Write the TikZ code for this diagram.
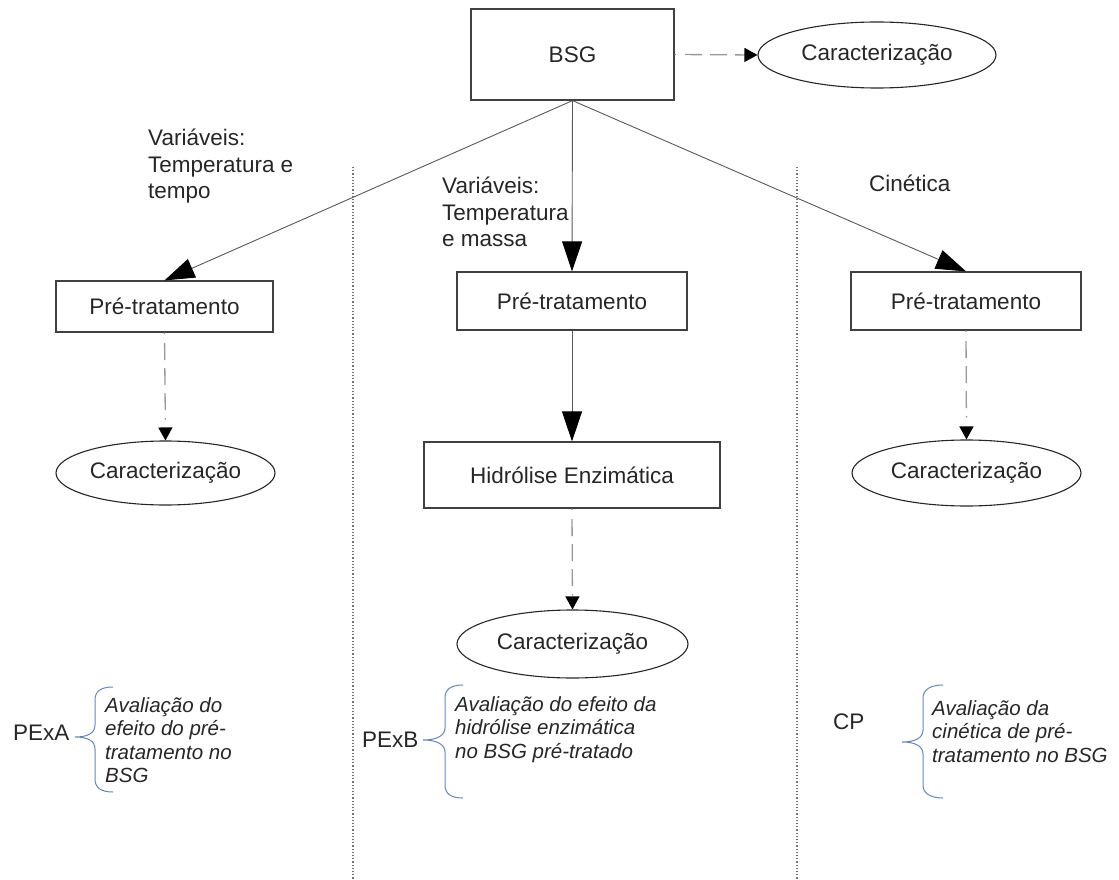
\documentclass[tikz,border=0pt]{standalone}
\usepackage{fontspec}
\setmainfont{Liberation Sans}
\usetikzlibrary{arrows.meta,shapes.geometric}
\definecolor{azulchave}{RGB}{96,135,195}

\tikzset{
  caixa/.style={draw=black!75,line width=1.2pt,rectangle,inner sep=0pt,
    text=black!85,font=\fontsize{22.5}{27}\selectfont},
  elipse/.style={draw=black!85,line width=1.1pt,ellipse,inner sep=0pt,
    text=black!85,font=\fontsize{22.5}{27}\selectfont},
  seta/.style={draw=black!65,line width=0.9pt,
    -{Triangle[length=30pt,width=20pt,color=black,fill=black]}},
  tracejada/.style={draw=black!40,line width=1.3pt,
    dash pattern=on 1.5pt off 9pt on 17pt off 8pt on 17pt off 8pt on 17pt off 8pt,
    -{Triangle[length=13pt,width=14pt,color=black,fill=black]}},
  rotulo/.style={inner sep=0pt,align=left,anchor=north west,text=black!85,
    font=\fontsize{22.5}{26.5}\selectfont},
  descricao/.style={inner sep=0pt,align=left,anchor=north west,text=black!85,
    font=\fontsize{20.5}{23.4}\selectfont\itshape},
  sigla/.style={inner sep=0pt,anchor=west,text=black!85,
    font=\fontsize{22.5}{27}\selectfont},
  chave/.style={draw=azulchave,line width=1pt},
  divisoria/.style={draw=black!55,line width=1.1pt,dash pattern=on 1.2pt off 2pt}
}

\begin{document}
\begin{tikzpicture}[x=1pt,y=-1pt]
  \useasboundingbox (0,0) rectangle (1119,880);

  % colunas
  \draw[divisoria] (353,167) -- (353,880);
  \draw[divisoria] (797,167) -- (797,880);

  % topo
  \node[caixa,minimum width=203pt,minimum height=91pt] (bsg) at (572.5,54.5) {BSG};
  \node[elipse,minimum width=238pt,minimum height=66pt] (carTop) at (877,55) {Caracterização};

  % pre-tratamentos
  \node[caixa,minimum width=217pt,minimum height=51pt] (preA) at (164.5,306.5) {Pré-tratamento};
  \node[caixa,minimum width=230pt,minimum height=58pt] (preB) at (572,301) {Pré-tratamento};
  \node[caixa,minimum width=230pt,minimum height=58pt] (preC) at (966,301) {Pré-tratamento};

  \node[elipse,minimum width=219pt,minimum height=64pt] (carA) at (165.5,473) {Caracterização};
  \node[caixa,minimum width=296pt,minimum height=66pt] (hidro) at (572,475) {Hidrólise Enzimática};
  \node[elipse,minimum width=229pt,minimum height=66pt] (carC) at (966.5,473) {Caracterização};
  \node[elipse,minimum width=231pt,minimum height=68pt] (carB) at (572.5,644) {Caracterização};

  % variaveis
  \node[rotulo] (varA) at (148,129) {Variáveis:\\Temperatura e\\tempo};
  \node[rotulo] (varB) at (442,177) {Variáveis:\\Temperatura\\e massa};
  \node[rotulo] (cin) at (869,175) {Cinética};

  % ligacoes
  \draw[tracejada] (bsg.east) -- (carTop.west);
  \draw[seta] (bsg.south) -- (preA.north);
  \draw[seta] (bsg.south) -- (preB.north);
  \draw[seta] (bsg.south) -- (preC.north);
  \draw[tracejada] (preA.south) -- (carA.north);
  \draw[seta] (preB.south) -- (hidro.north);
  \draw[tracejada] (hidro.south) -- (carB.north);
  \draw[tracejada] (preC.south) -- (carC.north);

  % legendas
  \node[sigla] (pexa) at (13,733) {PExA};
  \node[sigla] (pexb) at (362,740) {PExB};
  \node[sigla] (cp) at (833,722) {CP};

  \draw[chave] (113,687) .. controls (100,687) and (95,692) .. (95,700) -- (95,725)
    .. controls (95,733) and (88,737) .. (75,737) .. controls (88,737) and (95,741) .. (95,749)
    -- (95,779) .. controls (95,787) and (100,792) .. (113,792);
  \draw[chave] (463,685) .. controls (450,685) and (445,690) .. (445,698) -- (445,728)
    .. controls (445,736) and (436,740) .. (423,740) .. controls (436,740) and (445,744) .. (445,752)
    -- (445,785) .. controls (445,793) and (450,798) .. (463,798);
  \draw[chave] (943,685) .. controls (930,685) and (923,690) .. (923,698) -- (923,730)
    .. controls (923,738) and (915,742) .. (902,742) .. controls (915,742) and (923,746) .. (923,754)
    -- (923,785) .. controls (923,793) and (930,798) .. (943,798);

  \node[descricao] (descA) at (105,697.5) {Avaliação do\\efeito do pré-\\tratamento no\\BSG};
  \node[descricao] (descB) at (455,696.5) {Avaliação do efeito da\\hidrólise enzimática\\no BSG pré-tratado};
  \node[descricao] (descC) at (932,700.5) {Avaliação da\\cinética de pré-\\tratamento no BSG};
\end{tikzpicture}
\end{document}
